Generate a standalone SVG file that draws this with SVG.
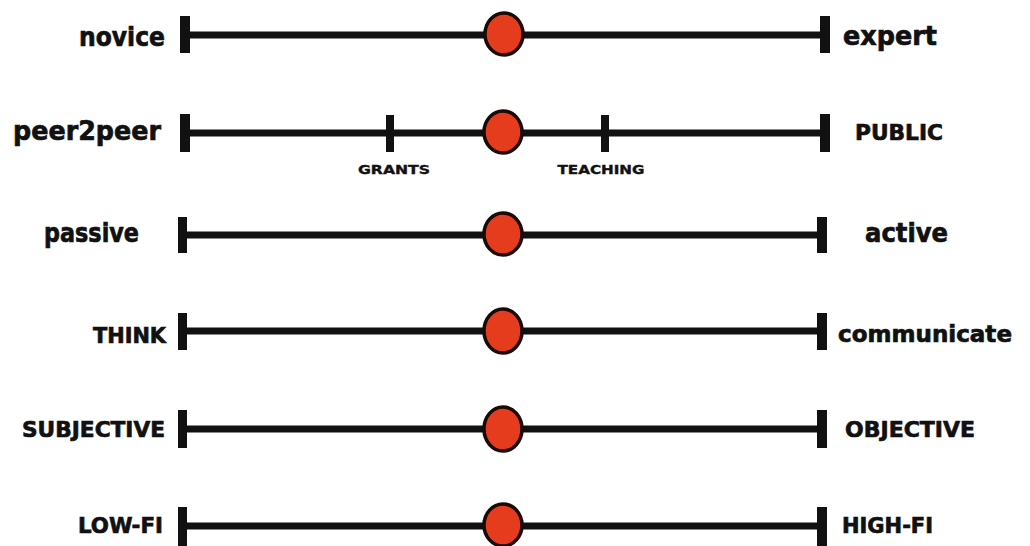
<svg xmlns="http://www.w3.org/2000/svg" width="1030" height="546" viewBox="0 0 1030 546">
<style>
.ln{stroke:#111;stroke-width:7;fill:none}
.bar{fill:#111}
.dot{fill:#e63c1e;stroke:#1a0a05;stroke-width:3.5}
.lbl{font-family:"DejaVu Sans","Liberation Sans",sans-serif;font-weight:bold;font-size:22px;fill:#111;stroke:#111;stroke-width:0.7}
.lc{font-size:27px}
.l{text-anchor:end}
.sm{font-family:"DejaVu Sans","Liberation Sans",sans-serif;font-weight:bold;font-size:13px;fill:#111;stroke:#111;stroke-width:0.4;text-anchor:middle}
</style>
<rect width="1030" height="546" fill="#fff"/>
<g id="connectors">
<line class="ln" x1="185" y1="35" x2="823" y2="35"/>
<line class="ln" x1="185" y1="133" x2="823" y2="133"/>
<line class="ln" x1="183" y1="235" x2="822" y2="235"/>
<line class="ln" x1="183" y1="331" x2="822" y2="331"/>
<line class="ln" x1="183" y1="429" x2="822" y2="429"/>
<line class="ln" x1="183" y1="526" x2="822" y2="526"/>
</g>
<g id="row1">
<rect class="bar" x="180" y="16" width="10" height="37"/>
<rect class="bar" x="820" y="16" width="10" height="37"/>
<ellipse class="dot" cx="504" cy="34" rx="19" ry="21"/>
<text class="lbl lc l" x="165" y="46" textLength="86" lengthAdjust="spacingAndGlyphs">novice</text>
<text class="lbl lc" x="843" y="45" textLength="94" lengthAdjust="spacingAndGlyphs">expert</text>
</g>
<g id="row2">
<rect class="bar" x="180" y="114" width="10" height="38"/>
<rect class="bar" x="820" y="114" width="10" height="38"/>
<rect class="bar" x="386" y="115" width="8" height="37"/>
<rect class="bar" x="601" y="115" width="8" height="37"/>
<ellipse class="dot" cx="503" cy="132" rx="19" ry="21"/>
<text class="lbl lc l" x="161" y="140" textLength="148" lengthAdjust="spacingAndGlyphs">peer2peer</text>
<text class="lbl" x="855" y="140" textLength="88" lengthAdjust="spacingAndGlyphs">PUBLIC</text>
<text class="sm" x="394" y="174" textLength="72" lengthAdjust="spacingAndGlyphs">GRANTS</text>
<text class="sm" x="601" y="174" textLength="87" lengthAdjust="spacingAndGlyphs">TEACHING</text>
</g>
<g id="row3">
<rect class="bar" x="178" y="217" width="9" height="36"/>
<rect class="bar" x="817" y="217" width="10" height="36"/>
<ellipse class="dot" cx="503" cy="234" rx="19" ry="21"/>
<text class="lbl lc l" x="139" y="242" textLength="95" lengthAdjust="spacingAndGlyphs">passive</text>
<text class="lbl lc" x="865" y="242" textLength="83" lengthAdjust="spacingAndGlyphs">active</text>
</g>
<g id="row4">
<rect class="bar" x="178" y="313" width="9" height="37"/>
<rect class="bar" x="817" y="313" width="10" height="37"/>
<ellipse class="dot" cx="503" cy="331" rx="19" ry="22"/>
<text class="lbl l" x="166" y="343" textLength="73" lengthAdjust="spacingAndGlyphs">THINK</text>
<text class="lbl" x="838" y="342" style="font-size:23px" textLength="174" lengthAdjust="spacingAndGlyphs">communicate</text>
</g>
<g id="row5">
<rect class="bar" x="178" y="410" width="9" height="38"/>
<rect class="bar" x="817" y="410" width="10" height="38"/>
<ellipse class="dot" cx="503" cy="429" rx="19" ry="22"/>
<text class="lbl l" x="165" y="437" textLength="143" lengthAdjust="spacingAndGlyphs">SUBJECTIVE</text>
<text class="lbl" x="845" y="437" textLength="130" lengthAdjust="spacingAndGlyphs">OBJECTIVE</text>
</g>
<g id="row6">
<rect class="bar" x="178" y="507" width="9" height="39"/>
<rect class="bar" x="817" y="507" width="10" height="39"/>
<ellipse class="dot" cx="503" cy="525" rx="19" ry="21"/>
<text class="lbl l" x="163" y="533" textLength="85" lengthAdjust="spacingAndGlyphs">LOW-FI</text>
<text class="lbl" x="842" y="533" textLength="91" lengthAdjust="spacingAndGlyphs">HIGH-FI</text>
</g>
</svg>
